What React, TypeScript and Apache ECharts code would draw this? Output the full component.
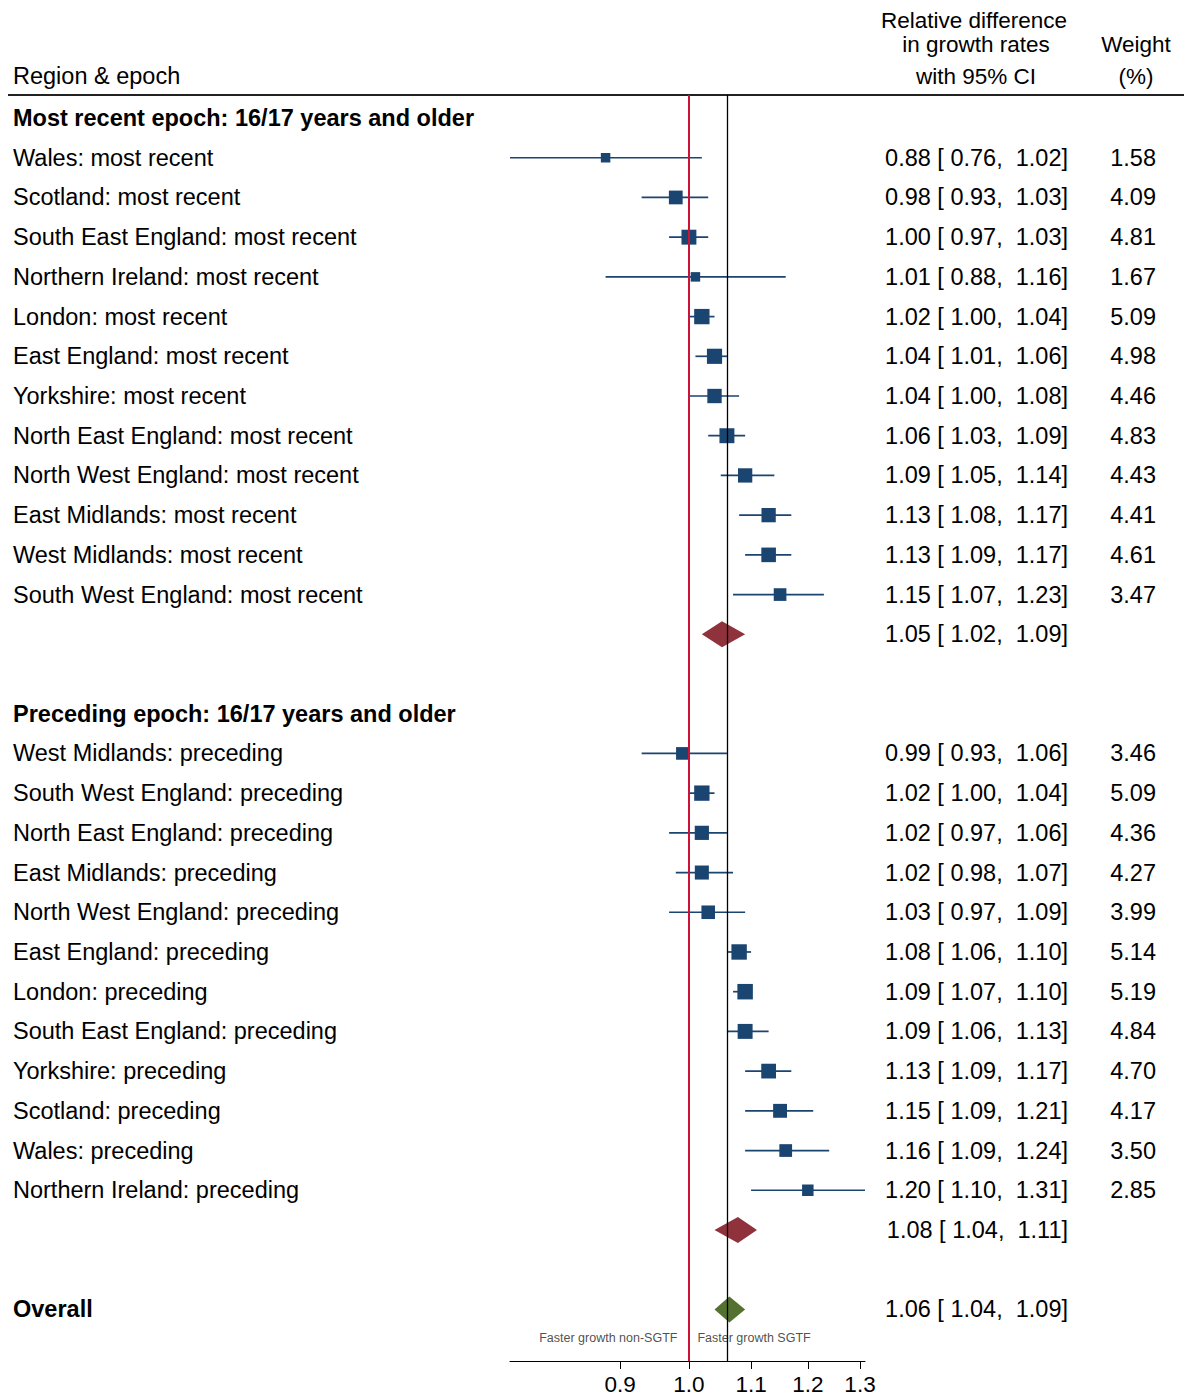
import React, { useEffect, useRef } from "react";
import * as echarts from "echarts";

// ---------- data ----------
const recentRegions = ["Wales", "Scotland", "South East England", "Northern Ireland", "London", "East England", "Yorkshire", "North East England", "North West England", "East Midlands", "West Midlands", "South West England"];
const recentEst = [0.88, 0.98, 1.0, 1.01, 1.02, 1.04, 1.04, 1.06, 1.09, 1.13, 1.13, 1.15];
const recentLo = [0.76, 0.93, 0.97, 0.88, 1.0, 1.01, 1.0, 1.03, 1.05, 1.08, 1.09, 1.07];
const recentHi = [1.02, 1.03, 1.03, 1.16, 1.04, 1.06, 1.08, 1.09, 1.14, 1.17, 1.17, 1.23];
const recentWeight = [1.58, 4.09, 4.81, 1.67, 5.09, 4.98, 4.46, 4.83, 4.43, 4.41, 4.61, 3.47];

const precedingRegions = ["West Midlands", "South West England", "North East England", "East Midlands", "North West England", "East England", "London", "South East England", "Yorkshire", "Scotland", "Wales", "Northern Ireland"];
const precedingEst = [0.99, 1.02, 1.02, 1.02, 1.03, 1.08, 1.09, 1.09, 1.13, 1.15, 1.16, 1.2];
const precedingLo = [0.93, 1.0, 0.97, 0.98, 0.97, 1.06, 1.07, 1.06, 1.09, 1.09, 1.09, 1.1];
const precedingHi = [1.06, 1.04, 1.06, 1.07, 1.09, 1.1, 1.1, 1.13, 1.17, 1.21, 1.24, 1.31];
const precedingWeight = [3.46, 5.09, 4.36, 4.27, 3.99, 5.14, 5.19, 4.84, 4.7, 4.17, 3.5, 2.85];

// pooled estimates [est, lo, hi]
const recentPooled = [1.052, 1.02, 1.09];
const precedingPooled = [1.078, 1.04, 1.11];
const overallPooled = [1.064, 1.04, 1.09];

const groupTitles = ["Most recent epoch: 16/17 years and older", "Preceding epoch: 16/17 years and older"];
const recentSuffix = ": most recent";
const precedingSuffix = ": preceding";
const overallLabel = "Overall";
const xTicks = [0.9, 1.0, 1.1, 1.2, 1.3];
const leftNote = "Faster growth non-SGTF";
const rightNote = "Faster growth SGTF";
const nullValue = 1.0;

const FONT = '"Liberation Sans", Arial, Helvetica, sans-serif';
const FS = 23.5;
const HFS = 22.5;
const BLUE = "#1b4571";
const DIAMOND_RED = "#8f323c";
const DIAMOND_GREEN = "#547130";

export default function App() {
  const ref = useRef<HTMLDivElement>(null);

  useEffect(() => {
    if (!ref.current) return;
    const chart = echarts.init(ref.current, null, { renderer: "svg" });

    const leftLabels: Record<number, string> = {};
    const ciLabels: Record<number, string> = {};
    const wLabels: Record<number, string> = {};
    const studyData: number[][] = [];
    const pooledData: any[] = [];
    const fmt = (e: number, l: number, h: number) => `${e.toFixed(2)} [ ${l.toFixed(2)},  ${h.toFixed(2)}]`;

    let row = 0;
    const addGroup = (title: string, regions: string[], suffix: string, est: number[], lo: number[], hi: number[], w: number[], pooled: number[]) => {
      leftLabels[row] = `{b|${title}}`;
      row++;
      regions.forEach((r, i) => {
        leftLabels[row] = `{n|${r}${suffix}}`;
        ciLabels[row] = fmt(est[i], lo[i], hi[i]);
        wLabels[row] = w[i].toFixed(2);
        studyData.push([row, est[i], lo[i], hi[i], w[i]]);
        row++;
      });
      ciLabels[row] = fmt(pooled[0], pooled[1], pooled[2]);
      pooledData.push({ value: [row, pooled[0], pooled[1], pooled[2]], color: DIAMOND_RED });
      row++;
      row++; // blank
    };
    addGroup(groupTitles[0], recentRegions, recentSuffix, recentEst, recentLo, recentHi, recentWeight, recentPooled);
    addGroup(groupTitles[1], precedingRegions, precedingSuffix, precedingEst, precedingLo, precedingHi, precedingWeight, precedingPooled);
    leftLabels[row] = `{b|${overallLabel}}`;
    ciLabels[row] = fmt(overallPooled[0], overallPooled[1], overallPooled[2]);
    pooledData.push({ value: [row, overallPooled[0], overallPooled[1], overallPooled[2]], color: DIAMOND_GREEN });
    const overallRow = row;
    const noteRow = overallRow + 0.72;

    const yMin = -0.58;
    const yMax = 31.3;

    const leftVals = Object.keys(leftLabels).map(Number);
    const ciVals = Object.keys(ciLabels).map(Number);
    const wVals = Object.keys(wLabels).map(Number);

    const baseY = {
      type: "value" as const,
      inverse: true,
      min: yMin,
      max: yMax,
      axisLine: { show: false },
      axisTick: { show: false },
      splitLine: { show: false },
    };

    const txt = (text: string, x: number, y: number) => ({
      type: "text",
      x,
      y,
      style: { text, fontSize: HFS, fill: "#000", fontFamily: FONT, align: "center", verticalAlign: "middle" },
    });

    const option: any = {
      animation: false,
      textStyle: { fontFamily: FONT },
      grid: { left: 510, right: 319, top: 95, bottom: 37, containLabel: false },
      xAxis: {
        type: "log",
        logBase: 10,
        min: 0.76,
        max: 1.31,
        splitLine: { show: false },
        axisLine: { onZero: false, lineStyle: { color: "#000", width: 1 } },
        axisTick: { show: true, length: 8, customValues: xTicks, lineStyle: { color: "#000" } },
        axisLabel: {
          customValues: xTicks,
          formatter: (v: number) => v.toFixed(1),
          fontSize: 22.5,
          color: "#000",
          fontFamily: FONT,
          margin: 12,
        },
      },
      yAxis: [
        {
          ...baseY,
          position: "left",
          axisLabel: {
            customValues: leftVals,
            formatter: (v: number) => leftLabels[Math.round(v)] ?? "",
            align: "left",
            margin: 497,
            rich: {
              b: { fontSize: FS, fontWeight: "bold", color: "#000", fontFamily: FONT },
              n: { fontSize: FS, color: "#000", fontFamily: FONT },
            },
          },
        },
        {
          ...baseY,
          position: "right",
          offset: 203,
          axisLabel: {
            customValues: ciVals,
            formatter: (v: number) => ciLabels[Math.round(v)] ?? "",
            align: "right",
            margin: 0,
            fontSize: FS,
            color: "#000",
            fontFamily: FONT,
          },
        },
        {
          ...baseY,
          position: "right",
          offset: 291,
          axisLabel: {
            customValues: wVals,
            formatter: (v: number) => wLabels[Math.round(v)] ?? "",
            align: "right",
            margin: 0,
            fontSize: FS,
            color: "#000",
            fontFamily: FONT,
          },
        },
      ],
      graphic: [
        { type: "text", x: 13, y: 76, style: { text: "Region & epoch", fontSize: FS, fill: "#000", fontFamily: FONT, align: "left", verticalAlign: "middle" } },
        txt("Relative difference", 974, 20),
        txt("in growth rates", 976, 44),
        txt("with 95% CI", 976, 76),
        txt("Weight", 1136, 44),
        txt("(%)", 1136, 76),
        { type: "line", shape: { x1: 8, y1: 95, x2: 1184, y2: 95 }, style: { stroke: "#222", lineWidth: 2 } },
      ],
      series: [
        {
          type: "custom",
          name: "studies",
          z: 3,
          renderItem: (params: any, api: any) => {
            const y = api.value(0);
            const est = api.value(1);
            const lo = api.value(2);
            const hi = api.value(3);
            const w = api.value(4);
            const pLo = api.coord([lo, y]);
            const pHi = api.coord([hi, y]);
            const pE = api.coord([est, y]);
            const s = Math.max(9.5, 6.8 * Math.sqrt(w));
            return {
              type: "group",
              children: [
                { type: "line", shape: { x1: pLo[0], y1: pLo[1], x2: pHi[0], y2: pHi[1] }, style: { stroke: BLUE, lineWidth: 1.7 } },
                { type: "rect", shape: { x: pE[0] - s / 2, y: pE[1] - s / 2, width: s, height: s }, style: { fill: BLUE } },
              ],
            };
          },
          encode: { x: [1, 2, 3], y: 0 },
          data: studyData,
        },
        {
          type: "custom",
          name: "pooled",
          z: 3,
          renderItem: (params: any, api: any) => {
            const y = api.value(0);
            const est = api.value(1);
            const lo = api.value(2);
            const hi = api.value(3);
            const pLo = api.coord([lo, y]);
            const pHi = api.coord([hi, y]);
            const pE = api.coord([est, y]);
            const h = 13;
            const color = pooledData[params.dataIndex].color;
            return {
              type: "polygon",
              shape: { points: [[pLo[0], pLo[1]], [pE[0], pE[1] - h], [pHi[0], pHi[1]], [pE[0], pE[1] + h]] },
              style: { fill: color },
            };
          },
          encode: { x: [1, 2, 3], y: 0 },
          data: pooledData.map((d) => d.value),
        },
        {
          type: "scatter",
          name: "refs",
          z: 2,
          symbolSize: 1,
          itemStyle: { color: "rgba(0,0,0,0)" },
          data: [
            { value: [nullValue, noteRow], label: { show: true, position: "left", distance: 11, formatter: leftNote, fontSize: 12.5, color: "#222", fontFamily: FONT } },
            { value: [nullValue, noteRow], label: { show: true, position: "right", distance: 8, formatter: rightNote, fontSize: 12.5, color: "#222", fontFamily: FONT } },
          ],
          markLine: {
            silent: true,
            symbol: "none",
            label: { show: false },
            data: [
              { xAxis: nullValue, lineStyle: { color: "#cc1236", width: 2, type: "solid" } },
              { xAxis: overallPooled[0], lineStyle: { color: "#000", width: 1.3, type: "solid" } },
            ],
          },
        },
      ],
    };

    chart.setOption(option);
    return () => chart.dispose();
  }, []);

  return <div ref={ref} style={{ position: "fixed", left: 0, top: 0, width: 1184, height: 1398, background: "#fff" }} />;
}
